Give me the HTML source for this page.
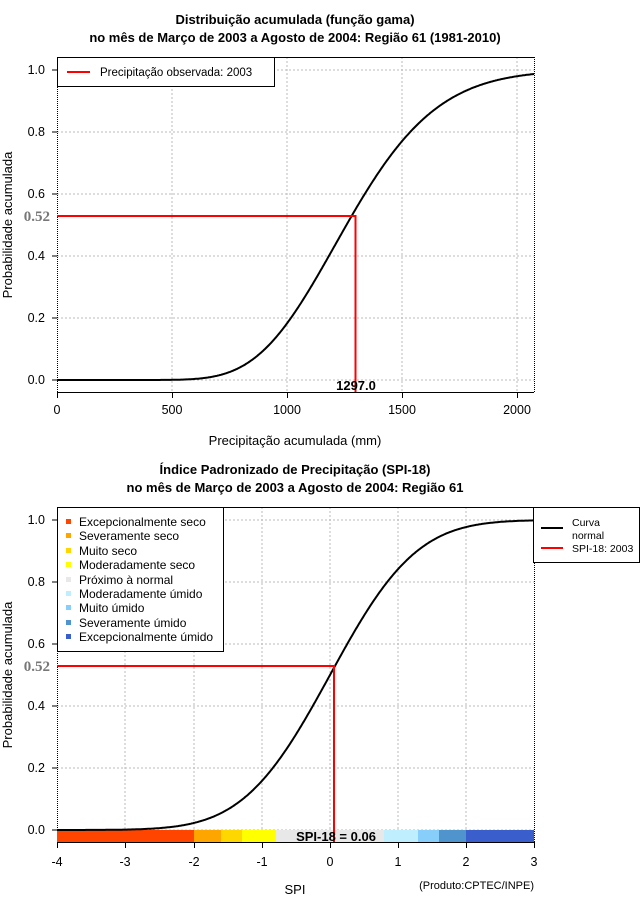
<!DOCTYPE html>
<html><head><meta charset="utf-8"><style>
body{margin:0;background:#fff}
svg{font-family:"Liberation Sans",sans-serif}
</style></head><body>
<svg id="s" width="640" height="900" viewBox="0 0 640 900" xmlns="http://www.w3.org/2000/svg">
<rect width="640" height="900" fill="#fff"/>
<g font-weight="bold" font-size="13" text-anchor="middle">
<text x="295" y="24">Distribuição acumulada (função gama)</text>
<text x="295" y="42">no mês de Março de 2003 a Agosto de 2004: Região 61 (1981-2010)</text>
<text x="295" y="474">Índice Padronizado de Precipitação (SPI-18)</text>
<text x="295" y="492">no mês de Março de 2003 a Agosto de 2004: Região 61</text>
</g>
<g stroke="#bbb" stroke-dasharray="2,2" stroke-width="1">
<path d="M172 57V392M287 57V392M402 57V392M517 57V392M57 70H534M57 132H534M57 194H534M57 256H534M57 318H534M57 380H534"/>
<path d="M125 507V842M194 507V842M262 507V842M330 507V842M398 507V842M466 507V842M57 520H534M57 582H534M57 644H534M57 706H534M57 768H534M57 830H534"/>
</g>
<g stroke="#000" fill="none">
<path d="M57.5 57V392M534.5 57V392M57.5 507V842M534.5 507V842" stroke-dasharray="1,1"/>
<path d="M57 57.5H534M57 392.5H534M57 507.5H534M57 842.5H534"/>
<path d="M57 70H52M57 132H52M57 194H52M57 256H52M57 318H52M57 380H52M57 520H52M57 582H52M57 644H52M57 706H52M57 768H52M57 830H52"/>
<path d="M57.5 392V398M172.5 392V398M287.5 392V398M402.5 392V398M517.5 392V398"/>
<path d="M57.5 842V848M125.5 842V848M194.5 842V848M262.5 842V848M330.5 842V848M398.5 842V848M466.5 842V848M534.5 842V848"/>
</g>
<g font-size="12.5" text-anchor="end">
<text x="45" y="74">1.0</text><text x="45" y="136">0.8</text><text x="45" y="198">0.6</text><text x="45" y="260">0.4</text><text x="45" y="322">0.2</text><text x="45" y="384">0.0</text>
<text x="45" y="524">1.0</text><text x="45" y="586">0.8</text><text x="45" y="648">0.6</text><text x="45" y="710">0.4</text><text x="45" y="772">0.2</text><text x="45" y="834">0.0</text>
</g>
<g font-size="12.5" text-anchor="middle">
<text x="57" y="414">0</text><text x="172" y="414">500</text><text x="287" y="414">1000</text><text x="402" y="414">1500</text><text x="517" y="414">2000</text>
<text x="57" y="866">-4</text><text x="125" y="866">-3</text><text x="194" y="866">-2</text><text x="262" y="866">-1</text><text x="330" y="866">0</text><text x="398" y="866">1</text><text x="466" y="866">2</text><text x="534" y="866">3</text>
<text x="295" y="445" font-size="13">Precipitação acumulada (mm)</text>
<text x="295" y="894" font-size="13">SPI</text>
<text x="12" y="225" font-size="13" transform="rotate(-90 12 225)">Probabilidade acumulada</text>
<text x="12" y="675" font-size="13" transform="rotate(-90 12 675)">Probabilidade acumulada</text>
<text x="534" y="889" font-size="11" text-anchor="end">(Produto:CPTEC/INPE)</text>
</g>
<g font-family="Liberation Serif,serif" font-weight="bold" font-size="15" fill="#777" text-anchor="end">
<text x="50" y="221">0.52</text><text x="50" y="671">0.52</text>
</g>
<g>
<rect x="57" y="830" width="137" height="12" fill="#ff4500"/>
<rect x="194" y="830" width="27" height="12" fill="#ffa500"/>
<rect x="221" y="830" width="21" height="12" fill="#ffd700"/>
<rect x="242" y="830" width="34" height="12" fill="#ffff00"/>
<rect x="276" y="830" width="109" height="12" fill="#e8e8e8"/>
<rect x="384" y="830" width="34" height="12" fill="#bfefff"/>
<rect x="418" y="830" width="21" height="12" fill="#87cefa"/>
<rect x="439" y="830" width="27" height="12" fill="#4f94cd"/>
<rect x="466" y="830" width="68" height="12" fill="#3a5fcd"/>
</g>
<path id="c1" fill="none" stroke="#000" stroke-width="2"/>
<path id="c2" fill="none" stroke="#000" stroke-width="2"/>
<path d="M57 216H355.5V392" fill="none" stroke="#f00" stroke-width="2"/>
<path d="M57 666H334V842" fill="none" stroke="#f00" stroke-width="2"/>
<text x="356" y="390" font-weight="bold" font-size="13" text-anchor="middle">1297.0</text>
<text x="336" y="841" font-weight="bold" font-size="13" text-anchor="middle">SPI-18 = 0.06</text>
<rect x="57.5" y="57.5" width="217" height="29" fill="#fff" stroke="#000"/>
<path d="M67 72H90" stroke="#f00" stroke-width="2"/>
<text x="100" y="76" font-size="11.5">Precipitação observada: 2003</text>
<rect x="57.5" y="507.5" width="166" height="144" fill="#fff" stroke="#000"/>
<g font-size="12">
<rect x="66" y="519" width="5" height="5" fill="#ff4500"/><text x="79" y="526">Excepcionalmente seco</text>
<rect x="66" y="533" width="5" height="5" fill="#ffa500"/><text x="79" y="540">Severamente seco</text>
<rect x="66" y="548" width="5" height="5" fill="#ffd700"/><text x="79" y="555">Muito seco</text>
<rect x="66" y="562" width="5" height="5" fill="#ffff00"/><text x="79" y="569">Moderadamente seco</text>
<rect x="66" y="577" width="5" height="5" fill="#e8e8e8"/><text x="79" y="584">Próximo à normal</text>
<rect x="66" y="591" width="5" height="5" fill="#bfefff"/><text x="79" y="598">Moderadamente úmido</text>
<rect x="66" y="605" width="5" height="5" fill="#87cefa"/><text x="79" y="612">Muito úmido</text>
<rect x="66" y="620" width="5" height="5" fill="#4f94cd"/><text x="79" y="627">Severamente úmido</text>
<rect x="66" y="634" width="5" height="5" fill="#3a5fcd"/><text x="79" y="641">Excepcionalmente úmido</text>
</g>
<rect x="533.5" y="507.5" width="106" height="55" fill="#fff" stroke="#000"/>
<path d="M541 528H563" stroke="#000" stroke-width="2"/>
<path d="M541 548H563" stroke="#f00" stroke-width="2"/>
<g font-size="10.5"><text x="572" y="526">Curva</text><text x="572" y="539">normal</text><text x="572" y="552">SPI-18: 2003</text></g>
</svg>
<script>
function erf(x){var s=x<0?-1:1;x=Math.abs(x);var t=1/(1+0.3275911*x);var y=1-(((((1.061405429*t-1.453152027)*t)+1.421413741)*t-0.284496736)*t+0.254829592)*t*Math.exp(-x*x);return s*y;}
function gcdf(x,k,th){if(x<=0)return 0;var z=x/th,sum=1/k,term=1/k;for(var n=1;n<400;n++){term*=z/(k+n);sum+=term;}
var lg=0;for(var i=1;i<k;i++)lg+=Math.log(i);return Math.min(1,Math.exp(k*Math.log(z)-z-lg)*sum);}
var d="";for(var px=57;px<=534;px++){var x=(px-57)/0.23;var p=gcdf(x,17,75.5);d+=(px==57?"M":"L")+px+" "+(380-p*310).toFixed(1);}
document.getElementById("c1").setAttribute("d",d);
d="";for(var px=57;px<=534;px++){var x=(px-330)/68;var p=0.5*(1+erf(x/Math.SQRT2));d+=(px==57?"M":"L")+px+" "+(830-p*310).toFixed(1);}
document.getElementById("c2").setAttribute("d",d);
</script>
</body></html>
